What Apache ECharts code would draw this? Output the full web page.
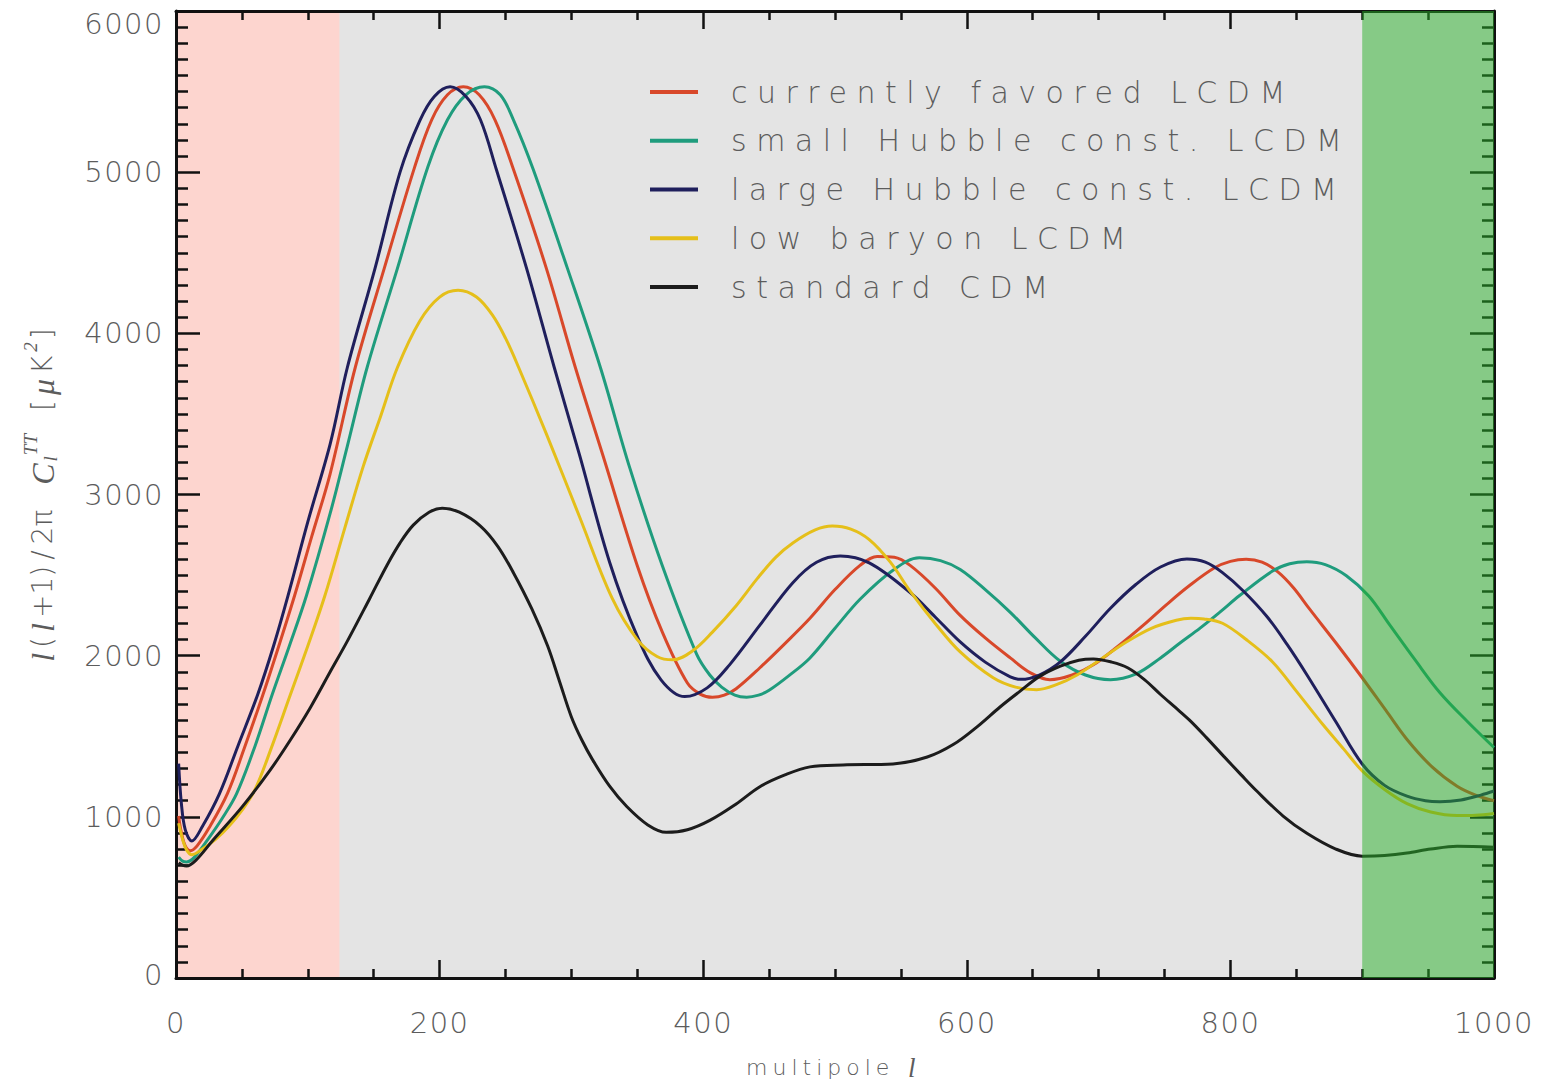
<!DOCTYPE html>
<html>
<head>
<meta charset="utf-8">
<script src="https://cdn.jsdelivr.net/npm/echarts@6/dist/echarts.min.js"></script>
<style>
  html, body { margin: 0; padding: 0; background: #ffffff; }
  #chart { width: 1541px; height: 1086px; }
</style>
</head>
<body>
<div id="chart"></div>
<script>
// CMB temperature power spectra, l(l+1)C_l/2pi in micro-K^2, as [multipole, value]
const modelNames = [
  'currently favored LCDM',
  'small Hubble const. LCDM',
  'large Hubble const. LCDM',
  'low baryon LCDM',
  'standard CDM'
];
const modelColors = ['#d8482a', '#1f9c7d', '#1f1f5c', '#e5bf1a', '#1c1c1c'];

const favoredLCDM = [[2,1005],[4,905],[7,820],[11,790],[16,820],[25,930],[39,1144],[52,1430],[66,1759],[78,2060],[90,2373],[103,2740],[117,3130],[136,3788],[158,4403],[181,5030],[194,5325],[206,5480],[218,5530],[230,5480],[242,5325],[256,5018],[281,4403],[303,3788],[324,3240],[350,2558],[369,2146],[388,1830],[398,1760],[407,1742],[416,1755],[425,1795],[443,1925],[462,2075],[481,2232],[500,2410],[519,2560],[532,2615],[545,2610],[557,2560],[576,2420],[595,2250],[614,2110],[633,1986],[648,1895],[663,1851],[680,1880],[696,1943],[715,2060],[734,2189],[752,2320],[769,2435],[788,2545],[800,2585],[812,2598],[824,2580],[836,2520],[848,2420],[860,2290],[880,2080],[900,1863],[918,1660],[934,1480],[953,1310],[972,1190],[986,1135],[1000,1100]];

const smallHubbleLCDM = [[2,750],[5,725],[8,720],[14,750],[25,870],[35,990],[46,1144],[60,1440],[73,1759],[86,2060],[99,2373],[117,2884],[130,3300],[145,3788],[168,4403],[191,5030],[206,5325],[220,5480],[234,5530],[246,5480],[256,5325],[271,5018],[297,4403],[322,3788],[344,3173],[369,2558],[395,2010],[405,1880],[414,1805],[424,1755],[433,1742],[442,1755],[450,1785],[466,1882],[481,1986],[500,2170],[519,2350],[544,2530],[564,2607],[580,2590],[595,2535],[614,2410],[633,2269],[652,2110],[671,1965],[690,1880],[709,1851],[728,1885],[747,1986],[762,2080],[777,2171],[792,2270],[807,2373],[832,2525],[845,2570],[858,2583],[872,2565],[888,2496],[905,2370],[921,2189],[940,1975],[959,1770],[980,1590],[1000,1430]];

const largeHubbleLCDM = [[2,1330],[4,1090],[7,920],[12,850],[20,940],[33,1144],[47,1440],[62,1759],[74,2060],[85,2373],[100,2830],[117,3314],[130,3788],[151,4403],[170,5000],[185,5320],[196,5470],[208,5530],[220,5470],[231,5325],[243,5018],[266,4403],[287,3788],[306,3250],[329,2580],[350,2120],[368,1850],[386,1746],[403,1800],[420,1943],[443,2189],[468,2453],[486,2580],[504,2619],[526,2576],[557,2392],[576,2240],[595,2085],[614,1960],[633,1868],[641,1853],[655,1880],[671,1961],[690,2120],[709,2294],[728,2440],[747,2550],[767,2600],[781,2580],[794,2515],[810,2400],[828,2240],[843,2070],[858,1882],[880,1590],[900,1328],[917,1195],[934,1128],[948,1100],[959,1094],[975,1105],[990,1135],[1000,1160]];

const lowBaryonLCDM = [[2,960],[5,860],[8,795],[12,765],[20,800],[30,860],[40,940],[50,1040],[60,1170],[72,1420],[86,1740],[100,2060],[113,2373],[128,2790],[142,3173],[155,3480],[168,3788],[185,4077],[200,4225],[214,4267],[228,4225],[240,4114],[250,3970],[260,3788],[281,3376],[306,2865],[331,2355],[350,2100],[365,1995],[377,1974],[392,2030],[407,2146],[425,2310],[441,2478],[455,2610],[468,2699],[485,2780],[498,2804],[512,2785],[526,2720],[542,2580],[557,2400],[576,2200],[595,2023],[620,1863],[637,1805],[653,1789],[668,1820],[684,1882],[702,1980],[721,2085],[740,2170],[759,2220],[770,2232],[780,2228],[794,2201],[812,2100],[832,1961],[850,1780],[870,1574],[886,1420],[900,1285],[917,1170],[934,1082],[952,1030],[972,1008],[986,1010],[1000,1021]];

const standardCDM = [[2,715],[5,700],[8,695],[15,730],[28,855],[50,1060],[71,1285],[87,1480],[102,1679],[117,1900],[130,2090],[147,2355],[160,2560],[170,2700],[180,2810],[192,2890],[202,2915],[215,2890],[231,2804],[244,2680],[256,2515],[270,2290],[282,2060],[291,1840],[300,1620],[308,1475],[316,1355],[329,1190],[342,1064],[358,950],[372,904],[388,920],[405,978],[425,1080],[443,1187],[462,1260],[481,1310],[506,1322],[544,1328],[570,1371],[590,1450],[608,1560],[625,1680],[640,1777],[655,1870],[671,1935],[685,1972],[696,1980],[710,1960],[722,1925],[735,1850],[747,1759],[758,1680],[769,1600],[782,1490],[795,1375],[808,1262],[820,1160],[840,1005],[858,898],[880,800],[900,756],[917,760],[934,775],[952,800],[972,818],[1000,812]];

const modelSpectra = [favoredLCDM, smallHubbleLCDM, largeHubbleLCDM, lowBaryonLCDM, standardCDM];

// multipole ranges that get shaded: [start, end]
const lowMultipoleBand = [[0, 124]];
const highMultipoleBand = [[900, 1000]];

// axis ranges: [min, max, major step, minor divisions]
const xScale = [0, 1000, 200, 4];
const yScale = [0, 6000, 1000, 10];

const LABEL_FONT = "'DejaVu Sans', sans-serif";
const MATH_FONT = "'Liberation Serif', 'DejaVu Serif', serif";
const TEXT_GREY = '#5c5c5c';
const FRAME = '#111111';

const chart = echarts.init(document.getElementById('chart'), null, { renderer: 'svg' });

function bandRenderer(fill) {
  return function (params, api) {
    const topLeft = api.coord([api.value(0), yScale[1]]);
    const bottomRight = api.coord([api.value(1), yScale[0]]);
    return {
      type: 'rect',
      shape: {
        x: topLeft[0], y: topLeft[1],
        width: bottomRight[0] - topLeft[0],
        height: bottomRight[1] - topLeft[1]
      },
      style: { fill: fill }
    };
  };
}

function frameAxis(base, extra) {
  return Object.assign({
    type: 'value',
    min: base[0],
    max: base[1],
    interval: base[2],
    z: 2,
    axisLine: { show: true, onZero: false, lineStyle: { color: FRAME, width: 3 } },
    splitLine: { show: false },
    minorSplitLine: { show: false },
  }, extra);
}

const plainNumber = v => String(v);
// end labels of the value axis sit inside the frame
const yTickLabel = v => v === yScale[1] ? '{top|' + v + '}' : (v === yScale[0] ? '{bottom|' + v + '}' : String(v));
const yLabelText = { fontFamily: LABEL_FONT, fontWeight: 200, fontSize: 29, color: TEXT_GREY };

const lineSeries = modelNames.map((name, i) => ({
  name: name,
  type: 'line',
  data: modelSpectra[i],
  xAxisIndex: 0,
  yAxisIndex: 0,
  smooth: 0.35,
  showSymbol: false,
  symbol: 'none',
  z: 3,
  lineStyle: { color: modelColors[i], width: 3 },
  itemStyle: { color: modelColors[i] },
  clip: true
}));

chart.setOption({
  animation: false,
  backgroundColor: '#ffffff',
  grid: {
    left: 176, right: 47, top: 11, bottom: 100,
    show: true,
    backgroundColor: '#e4e4e4',
    borderWidth: 0
  },
  legend: {
    data: modelNames,
    orient: 'vertical',
    left: 645,
    top: 68,
    icon: 'rect',
    itemWidth: 48,
    itemHeight: 4,
    itemGap: 10.75,
    selectedMode: false,
    textStyle: {
      fontFamily: LABEL_FONT,
      fontWeight: 200,
      fontSize: 30,
      lineHeight: 30,
      color: TEXT_GREY,
      padding: [8, 0, 0, 28]
    }
  },
  xAxis: [
    frameAxis(xScale, {
      position: 'bottom',
      name: '{t|multipole}{l|l}',
      nameLocation: 'middle',
      nameGap: 76,
      nameTextStyle: {
        rich: {
          t: { fontFamily: LABEL_FONT, fontWeight: 200, fontSize: 22, color: TEXT_GREY, padding: [0, 0, 0, 14] },
          l: { fontFamily: MATH_FONT, fontStyle: 'italic', fontSize: 27, color: TEXT_GREY, padding: [0, 0, 0, 36] }
        }
      },
      axisTick: { show: true, inside: true, length: 18, lineStyle: { color: FRAME, width: 2.5 } },
      minorTick: { show: true, splitNumber: xScale[3], length: 9, lineStyle: { color: FRAME, width: 2.5 } },
      axisLabel: { show: true, margin: 30, formatter: plainNumber, fontFamily: LABEL_FONT, fontWeight: 200, fontSize: 29, color: TEXT_GREY }
    }),
    frameAxis(xScale, {
      position: 'top',
      axisTick: { show: true, inside: true, length: 18, lineStyle: { color: FRAME, width: 2.5 } },
      minorTick: { show: true, splitNumber: xScale[3], length: 9, lineStyle: { color: FRAME, width: 2.5 } },
      axisLabel: { show: false }
    })
  ],
  yAxis: [
    frameAxis(yScale, {
      position: 'left',
      name: '{it|l}{p|(}{it|l}{p|+1)}{p|/}{p|2π}{gap|}{it|C}{sub|l}{sup|TT}{gap|}{p|[}{it|μ}{p|K}{sup|2}{p|]}',
      nameLocation: 'middle',
      nameRotate: 90,
      nameGap: 112,
      nameTextStyle: {
        rich: {
          it: { fontFamily: MATH_FONT, fontStyle: 'italic', fontSize: 32, color: TEXT_GREY, padding: [0, 2, 0, 2] },
          p: { fontFamily: LABEL_FONT, fontWeight: 200, fontSize: 28, color: TEXT_GREY, padding: [0, 3, 0, 3] },
          sub: { fontFamily: MATH_FONT, fontStyle: 'italic', fontSize: 19, color: TEXT_GREY, padding: [16, 0, 0, 0] },
          sup: { fontFamily: MATH_FONT, fontStyle: 'italic', fontSize: 19, color: TEXT_GREY, padding: [0, 0, 24, 1] },
          gap: { width: 20 }
        }
      },
      axisTick: { show: true, inside: true, length: 24, lineStyle: { color: FRAME, width: 2.5 } },
      minorTick: { show: true, splitNumber: yScale[3], length: 12, lineStyle: { color: FRAME, width: 2.5 } },
      axisLabel: Object.assign({
        show: true, margin: 12, formatter: yTickLabel,
        rich: {
          top: Object.assign({ padding: [26, 0, 0, 0] }, yLabelText),
          bottom: Object.assign({ padding: [0, 0, 6, 0] }, yLabelText)
        }
      }, yLabelText)
    }),
    frameAxis(yScale, {
      position: 'right',
      axisTick: { show: true, inside: true, length: 24, lineStyle: { color: FRAME, width: 2.5 } },
      minorTick: { show: true, splitNumber: yScale[3], length: 12, lineStyle: { color: FRAME, width: 2.5 } },
      axisLabel: { show: false }
    })
  ],
  series: [
    {
      name: 'low multipoles',
      type: 'custom',
      data: lowMultipoleBand,
      encode: { x: [0, 1] },
      renderItem: bandRenderer('#fdd5cf'),
      silent: true,
      z: 1,
      clip: true
    },
    ...lineSeries,
    {
      name: 'high multipoles',
      type: 'custom',
      data: highMultipoleBand,
      encode: { x: [0, 1] },
      renderItem: bandRenderer('rgba(40, 176, 40, 0.5)'),
      silent: true,
      z: 6,
      clip: true
    }
  ]
});

// widen the lettering to echo the stroked plotting font
const letterSpacingBySize = { '30px': '9.5px', '29px': '1.5px', '22px': '5px' };
function spreadLetters() {
  document.querySelectorAll('#chart svg text').forEach(el => {
    const size = window.getComputedStyle(el).fontSize;
    if (letterSpacingBySize[size]) el.style.letterSpacing = letterSpacingBySize[size];
  });
}
chart.on('finished', spreadLetters);
setTimeout(spreadLetters, 50);
setTimeout(spreadLetters, 300);
</script>
</body>
</html>
